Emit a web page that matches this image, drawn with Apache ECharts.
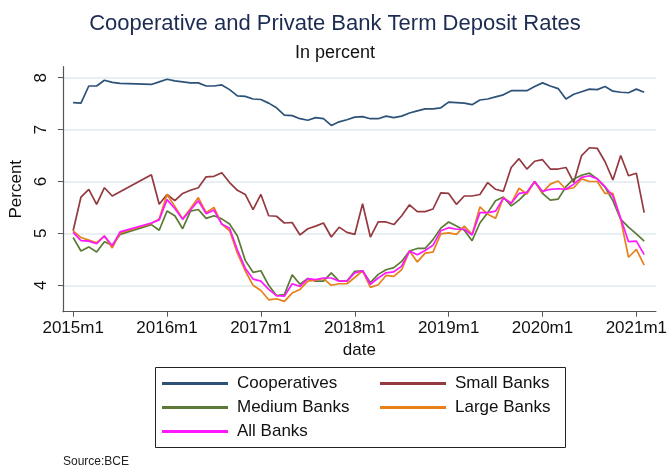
<!DOCTYPE html>
<html>
<head>
<meta charset="utf-8">
<script src="https://cdn.jsdelivr.net/npm/echarts@6/dist/echarts.min.js"></script>
<style>
  html, body { margin: 0; padding: 0; background: #fff; }
  #chart { width: 670px; height: 466px; }
</style>
</head>
<body>
<div id="chart"></div>
<script>
// Monthly term deposit rates, 2015m1 - 2021m2 (null = no observation)
const cooperatives = [
  7.52, 7.51, 7.84, 7.84, 7.95, 7.91, 7.89, null, null, null, 7.87, 7.92,
  7.97, 7.94, 7.92, 7.90, 7.90, 7.84, 7.84, 7.86, 7.77, 7.65, 7.64, 7.59,
  7.58, 7.51, 7.42, 7.28, 7.27, 7.21, 7.18, 7.23, 7.21, 7.08, 7.15, 7.19,
  7.24, 7.25, 7.21, 7.21, 7.26, 7.23, 7.26, 7.32, 7.36, 7.40, 7.40, 7.42,
  7.53, 7.52, 7.51, 7.48, 7.57, 7.59, 7.63, 7.67, 7.75, 7.75, 7.75, 7.83,
  7.90, 7.84, 7.79, 7.59, 7.68, 7.73, 7.78, 7.77, 7.83, 7.74, 7.72, 7.71,
  7.78, 7.72
];
const smallBanks = [
  5.05, 5.70, 5.85, 5.56, 5.88, 5.72, null, null, null, null, 6.13, 5.56,
  5.75, 5.63, 5.77, 5.83, 5.88, 6.09, 6.10, 6.17, 5.98, 5.83, 5.75, 5.46,
  5.75, 5.34, 5.33, 5.20, 5.21, 4.97, 5.09, 5.14, 5.20, 4.93, 5.12, 5.02,
  4.98, 5.57, 4.93, 5.22, 5.22, 5.17, 5.34, 5.55, 5.42, 5.42, 5.47, 5.78,
  5.77, 5.56, 5.72, 5.72, 5.75, 5.98, 5.85, 5.81, 6.27, 6.44, 6.24, 6.39,
  6.42, 6.24, 6.24, 6.27, 5.98, 6.50, 6.65, 6.64, 6.38, 6.03, 6.50, 6.11,
  6.16, 5.40
];
const mediumBanks = [
  4.92, 4.66, 4.74, 4.64, 4.84, 4.77, 4.98, null, null, null, 5.17, 5.06,
  5.43, 5.34, 5.09, 5.43, 5.46, 5.29, 5.34, 5.28, 5.18, 4.95, 4.48, 4.25,
  4.28, 4.00, 3.80, 3.82, 4.20, 4.02, 4.13, 4.08, 4.08, 4.24, 4.08, 4.08,
  4.27, 4.28, 4.05, 4.21, 4.30, 4.34, 4.46, 4.66, 4.71, 4.71, 4.88, 5.10,
  5.22, 5.14, 5.06, 4.86, 5.20, 5.40, 5.63, 5.70, 5.53, 5.64, 5.79, 6.00,
  5.77, 5.64, 5.66, 5.90, 6.05, 6.12, 6.16, 6.05, 5.89, 5.63, 5.27, 5.12,
  4.99, 4.85
];
const largeBanks = [
  5.05, 4.92, 4.87, 4.82, 4.95, 4.72, 5.01, null, null, null, 5.19, 5.28,
  5.75, 5.52, 5.28, 5.48, 5.69, 5.40, 5.50, 5.18, 5.05, 4.62, 4.28, 4.00,
  3.90, 3.72, 3.74, 3.69, 3.85, 3.92, 4.08, 4.10, 4.13, 4.00, 4.03, 4.03,
  4.15, 4.28, 3.96, 4.01, 4.19, 4.17, 4.30, 4.66, 4.45, 4.62, 4.64, 4.99,
  5.01, 4.98, 5.14, 4.98, 5.51, 5.37, 5.29, 5.69, 5.58, 5.87, 5.76, 6.00,
  5.79, 5.95, 6.01, 5.85, 5.88, 6.05, 6.00, 6.00, 5.77, 5.77, 5.27, 4.54,
  4.69, 4.39
];
const allBanks = [
  5.02, 4.86, 4.85, 4.80, 4.95, 4.76, 5.03, null, null, null, 5.20, 5.26,
  5.65, 5.48, 5.27, 5.45, 5.63, 5.38, 5.45, 5.18, 5.10, 4.68, 4.33, 4.12,
  4.08, 3.92, 3.80, 3.79, 4.03, 3.98, 4.13, 4.11, 4.14, 4.14, 4.08, 4.08,
  4.24, 4.28, 4.02, 4.14, 4.24, 4.26, 4.37, 4.66, 4.59, 4.67, 4.77, 5.05,
  5.11, 5.08, 5.08, 4.97, 5.40, 5.40, 5.43, 5.68, 5.58, 5.77, 5.79, 6.00,
  5.81, 5.85, 5.86, 5.85, 5.95, 6.08, 6.11, 6.05, 5.90, 5.72, 5.29, 4.84,
  4.85, 4.59
];

const xTickValues = [0, 12, 24, 36, 48, 60, 72];
const xTickLabels = ['2015m1', '2016m1', '2017m1', '2018m1', '2019m1', '2020m1', '2021m1'];
const yTicks = [4, 5, 6, 7, 8];

const seriesNames = ['Cooperatives', 'Small Banks', 'Medium Banks', 'Large Banks', 'All Banks'];
const seriesColors = ['#2c5278', '#94393f', '#5a7a35', '#e8801a', '#ff18ff'];
const seriesValues = [cooperatives, smallBanks, mediumBanks, largeBanks, allBanks];

// month index -> "YYYYmM" label
function monthLabel(i) {
  return (2015 + Math.floor(i / 12)) + 'm' + (i % 12 + 1);
}

const chart = echarts.init(document.getElementById('chart'), null, { renderer: 'canvas' });

const font = 'Liberation Sans, Arial, sans-serif';
const legendText = { fontFamily: font, fontSize: 17, color: '#111', padding: [0, 0, 0, 4] };

const option = {
  animation: false,
  backgroundColor: '#fff',
  title: [
    {
      text: 'Cooperative and Private Bank Term Deposit Rates',
      left: 'center',
      top: 8,
      textStyle: { fontFamily: font, fontSize: 22, fontWeight: 'normal', color: '#1c2b52' }
    },
    {
      text: 'In percent',
      left: 'center',
      top: 39,
      textStyle: { fontFamily: font, fontSize: 18, fontWeight: 'normal', color: '#111' }
    },
    {
      text: 'Source:BCE',
      left: 63,
      top: 456,
      padding: 0,
      textStyle: { fontFamily: font, fontSize: 12, fontWeight: 'normal', color: '#222' }
    }
  ],
  grid: { left: 60.7, right: 11, top: 66.7, bottom: 154.3 },
  xAxis: {
    type: 'value',
    min: -1.31,
    max: 74.5,
    name: 'date',
    nameLocation: 'middle',
    nameGap: 28,
    nameTextStyle: { fontFamily: font, fontSize: 17, color: '#111' },
    axisLine: { show: true, onZero: false, lineStyle: { color: '#555', width: 1.2 } },
    axisTick: { show: true, inside: false, length: 5, customValues: xTickValues, lineStyle: { color: '#555' } },
    axisLabel: {
      customValues: xTickValues,
      margin: 8,
      fontFamily: font,
      fontSize: 17,
      color: '#111',
      formatter: function (v) { return xTickLabels[xTickValues.indexOf(v)] || monthLabel(v); }
    },
    splitLine: { show: false }
  },
  yAxis: {
    type: 'value',
    min: 3.491,
    max: 8.212,
    name: 'Percent',
    nameLocation: 'middle',
    nameGap: 31,
    nameTextStyle: { fontFamily: font, fontSize: 17, color: '#111' },
    axisLine: { show: true, onZero: false, lineStyle: { color: '#555', width: 1.2 } },
    axisTick: { show: true, length: 5, customValues: yTicks, lineStyle: { color: '#555' } },
    axisLabel: {
      customValues: yTicks,
      rotate: 90,
      margin: 13,
      fontFamily: font,
      fontSize: 17,
      color: '#111'
    },
    splitLine: { show: true, lineStyle: { color: '#e6eff2', width: 2 } }
  },
  legend: [
    {
      data: ['Cooperatives', 'Medium Banks', 'All Banks'],
      orient: 'vertical',
      left: 162,
      top: 375,
      padding: 0,
      itemGap: 7,
      itemWidth: 66,
      itemHeight: 3,
      icon: 'rect',
      textStyle: legendText,
      selectedMode: false
    },
    {
      data: ['Small Banks', 'Large Banks'],
      orient: 'vertical',
      left: 380,
      top: 375,
      padding: 0,
      itemGap: 7,
      itemWidth: 66,
      itemHeight: 3,
      icon: 'rect',
      textStyle: legendText,
      selectedMode: false
    }
  ],
  graphic: [
    {
      type: 'rect',
      shape: { x: 155.5, y: 367.5, width: 410, height: 80 },
      style: { fill: 'none', stroke: '#222', lineWidth: 1 },
      silent: true
    }
  ],
  series: seriesNames.map(function (name, k) {
    return {
      name: name,
      type: 'line',
      showSymbol: false,
      connectNulls: true,
      color: seriesColors[k],
      lineStyle: { width: 1.7 },
      data: seriesValues[k].map(function (v, i) { return [i, v]; })
    };
  })
};

chart.setOption(option);
</script>
</body>
</html>
